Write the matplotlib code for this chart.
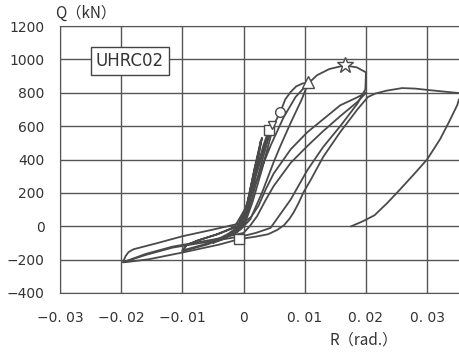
import matplotlib
matplotlib.use("Agg")
import matplotlib.pyplot as plt

plt.rcParams['font.family'] = ['DejaVu Sans']

""" tick labels """
x_ticks = [-0.03, -0.02, -0.01, 0, 0.01, 0.02, 0.03]
x_tick_labels = ["\u22120. 03", "\u22120. 02", "\u22120. 01", "0", "0. 01", "0. 02", "0. 03"]
y_ticks = [-400, -200, 0, 200, 400, 600, 800, 1000, 1200]
y_tick_labels = ["\u2212400", "\u2212200", "0", "200", "400", "600", "800", "1000", "1200"]

""" +-0.0025 rad cycles """
r_c1 = [0, 0.0008, 0.0018, 0.0028, 0.0024, 0.0014, 0.0004, -0.0008, -0.0025, -0.0019, -0.0006,
        0.0006, 0.0018, 0.0030, 0.0025, 0.0013, 0.0002, -0.0010, -0.0026, -0.0018, -0.0004]
q_c1 = [0, 170, 350, 510, 420, 220, 50, -25, -55, -35, 0,
        140, 340, 530, 430, 210, 30, -35, -60, -40, 5]

""" +-0.005 rad cycles """
r_c2 = [-0.0004, 0.0008, 0.0020, 0.0032, 0.0041, 0.0046, 0.0040, 0.0028, 0.0014, 0.0002, -0.0015,
        -0.0035, -0.0050, -0.0043, -0.0025, -0.0008, 0.0006, 0.0020, 0.0034, 0.0050]
q_c2 = [5, 150, 320, 480, 576, 605, 520, 360, 170, 25, -40,
        -80, -100, -80, -45, 0, 140, 320, 480, 620]

""" +-0.01 rad cycles """
r_c3 = [0.0050, 0.0043, 0.0030, 0.0015, 0.0003, -0.0015, -0.0040, -0.0070, -0.0100, -0.0092, -0.0070,
        -0.0040, -0.0010, 0.0005, 0.0020, 0.0035, 0.0048, 0.0060, 0.0068, 0.0077, 0.0086, 0.0096, 0.0106,
        0.0095, 0.0077, 0.0060, 0.0049, 0.0030, 0.0011, -0.0005, -0.0030, -0.0060, -0.0100, -0.0094,
        -0.0075, -0.0045, -0.0015, 0.0005, 0.0025, 0.0045, 0.0065, 0.0085, 0.0104]
q_c3 = [620, 520, 340, 150, 25, -40, -80, -115, -145, -110, -80,
        -45, 0, 110, 300, 480, 600, 683, 760, 805, 838, 855, 862,
        760, 620, 480, 383, 200, 42, -20, -70, -110, -150, -115,
        -85, -50, -5, 120, 310, 490, 650, 775, 850]

""" +-0.02 rad, 1st cycle """
r_c4 = [0.0104, 0.0120, 0.0140, 0.0165, 0.0185, 0.0200, 0.0199, 0.0186, 0.0158, 0.0130, 0.0104,
        0.0077, 0.0044, 0.0020, 0.0, -0.0050, -0.0116, -0.0160, -0.0197,
        -0.0193, -0.0188, -0.0180, -0.0140, -0.0100, -0.0050, 0.0, 0.0012, 0.0024, 0.0036, 0.0049,
        0.0077, 0.0104, 0.0130, 0.0158, 0.0186, 0.0200]
q_c4 = [850, 905, 942, 964, 952, 922, 820, 735, 600, 475, 335,
        160, -10, -40, -58, -88, -128, -172, -216,
        -180, -155, -138, -100, -60, -20, 22, 55, 120, 220, 315,
        461, 563, 641, 725, 773, 800]

""" +-0.02 rad, 2nd cycle """
r_c5 = [0.0200, 0.0186, 0.0158, 0.0130, 0.0104, 0.0077, 0.0049, 0.0035, 0.0022, 0.0010, 0.0,
        -0.0050, -0.0116, -0.0160, -0.0197, -0.0190, -0.0155, -0.0098, -0.0040, -0.0008]
q_c5 = [800, 745, 660, 570, 480, 380, 240, 150, 60, 0, -40,
        -80, -122, -166, -216, -214, -198, -156, -110, -78]

""" final loading """
r_c6 = [-0.0008, 0.0020, 0.0040, 0.0055, 0.0066, 0.0075, 0.0082, 0.0090, 0.0098, 0.0110, 0.0130,
        0.0158, 0.0186, 0.0203, 0.0215, 0.0233, 0.0259, 0.0280, 0.0303, 0.0352, 0.0390,
        0.0400, 0.0352, 0.0349, 0.0335, 0.0321, 0.0300, 0.0278, 0.0256, 0.0235, 0.0214, 0.0195, 0.0176]
q_c6 = [-78, -62, -48, -22, 6, 45, 84, 140, 204, 280, 415,
        565, 700, 774, 795, 812, 828, 825, 816, 798, 780,
        760, 761, 725, 620, 521, 401, 310, 222, 140, 66, 30, 0]

""" markers """
mark_r = [0.0041, 0.0046, 0.0060, 0.0106, 0.0165, -0.0008]
mark_q = [576, 605, 683, 862, 964, -78]
mark_shape = ["s", "v", "o", "^", "*", "s"]
mark_size = [7, 6, 7, 8, 12, 7]

fig = plt.figure(figsize=(4.59, 3.52), dpi=100)
ax = fig.add_axes([60 / 459, 59 / 352, 399 / 459, 267 / 352])

line_col = "#4a4a4a"
for r, q in [(r_c1, q_c1), (r_c2, q_c2), (r_c3, q_c3), (r_c4, q_c4), (r_c5, q_c5), (r_c6, q_c6)]:
    ax.plot(r, q, color=line_col, lw=1.3)

for r, q, m, s in zip(mark_r, mark_q, mark_shape, mark_size):
    ax.plot(r, q, marker=m, ms=s, mfc="white", mec=line_col, mew=1.0, ls="none", zorder=5)

ax.set_xlim(-0.03, 0.0352)
ax.set_ylim(-400, 1200)
ax.set_xticks(x_ticks)
ax.set_xticklabels(x_tick_labels, fontsize=10, color="#333333")
ax.set_yticks(y_ticks)
ax.set_yticklabels(y_tick_labels, fontsize=10, color="#333333")
ax.tick_params(length=0)
ax.tick_params(axis="x", pad=13)
ax.tick_params(axis="y", pad=11)
ax.grid(True, color="#555555", lw=1.0)
ax.set_axisbelow(True)
for side in ["left", "top", "bottom"]:
    ax.spines[side].set_color("#555555")
ax.spines["right"].set_visible(False)

ax.text(-0.0186, 990, "UHRC02", fontsize=12, ha="center", va="center", color="#333333",
        bbox=dict(boxstyle="square,pad=0.3", fc="white", ec="#444444", lw=1.0))

fig.text(55 / 459, 1 - 13 / 352, "Q\uff08kN\uff09", fontsize=11, ha="left", va="center", color="#333333",
         family=["Noto Sans CJK JP", "DejaVu Sans"])
fig.text(364 / 459, 1 - 340 / 352, "R\uff08rad.\uff09", fontsize=11, ha="center", va="center", color="#333333",
         family=["Noto Sans CJK JP", "DejaVu Sans"])

fig.savefig("out.png", dpi=100)
